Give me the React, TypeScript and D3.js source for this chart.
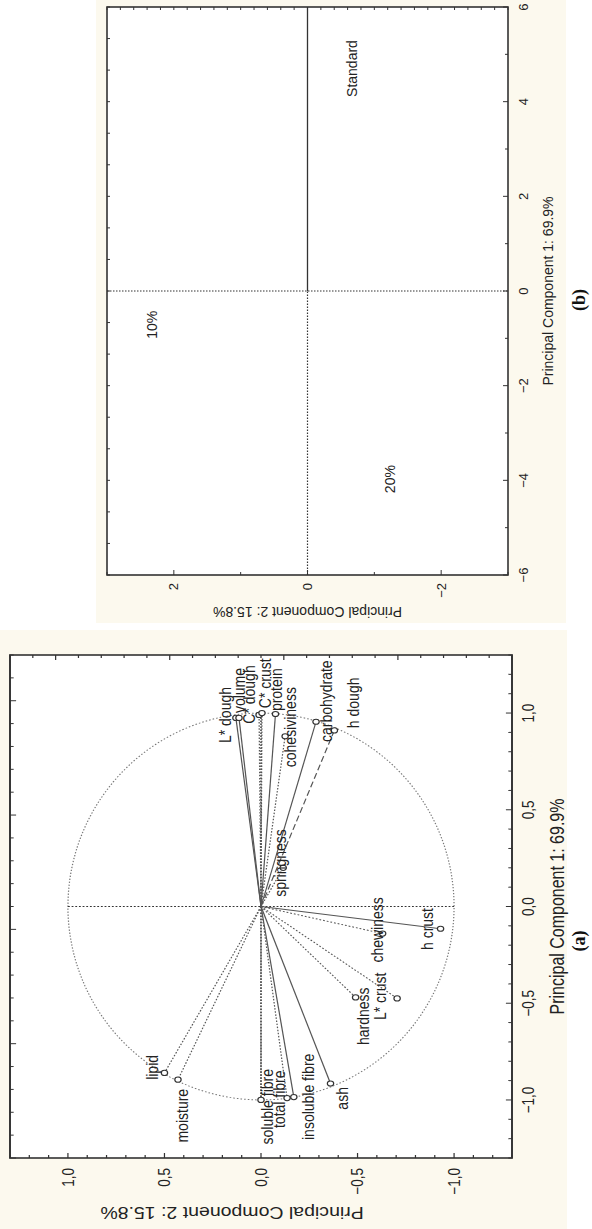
import React from "react";
import * as d3 from "d3";

// ---------- Panel (a): loadings ----------
const varNames = [
  "L* dough", "volume", "C* dough", "C* crust", "protein", "cohesiviness",
  "carbohydrate", "h dough", "springness", "lipid", "moisture", "soluble fibre",
  "total fibre", "insoluble fibre", "ash", "hardness", "L* crust", "chewiness", "h crust",
];
const varPC1 = [0.975, 0.975, 0.99, 1.0, 0.995, 0.88, 0.955, 0.91, 0.2, -0.86, -0.895, -1.0, -0.99, -0.985, -0.915, -0.47, -0.475, -0.14, -0.115];
const varPC2 = [0.13, 0.114, 0.01, -0.005, -0.075, -0.125, -0.285, -0.38, -0.115, 0.5, 0.43, 0.0, -0.135, -0.17, -0.36, -0.49, -0.705, -0.63, -0.93];
const varLine = ["solid", "solid", "dotted", "dotted", "solid", "dotted", "solid", "dashed", "dotted", "dotted", "dotted", "dotted", "dotted", "solid", "solid", "dotted", "dotted", "dotted", "solid"];
const labelPC1 = [0.845, 1.0, 0.945, 1.025, 1.01, 0.72, 0.85, 0.922, 0.05, -0.896, -1.22, -1.23, -1.145, -1.207, -1.05, -0.716, -0.587, -0.29, -0.225];
const labelPC2 = [0.187, 0.114, 0.062, -0.02, -0.078, -0.15, -0.337, -0.477, -0.098, 0.565, 0.41, -0.03, -0.093, -0.244, -0.42, -0.528, -0.617, -0.6, -0.86];
const ticksA = [-1.0, -0.5, 0, 0.5, 1.0];
const tickLabelsA = ["\u22121,0", "\u22120,5", "0,0", "0,5", "1,0"];

// ---------- Panel (b): scores ----------
const sampleNames = ["Standard", "10%", "20%"];
const samplePC1 = [4.1, -1.01, -4.27];
const samplePC2 = [-0.673, 2.33, -1.23];
const ticksB1 = [-6, -4, -2, 0, 2, 4, 6];
const tickLabelsB1 = ["\u22126", "\u22124", "\u22122", "0", "2", "4", "6"];
const ticksB2 = [-2, 0, 2];
const tickLabelsB2 = ["\u22122", "0", "2"];

const xTitle = "Principal Component 1: 69.9%";
const yTitle = "Principal Component 2: 15.8%";

const FONT = "'Liberation Sans', Arial, Helvetica, sans-serif";
const CREAM = "#fcf9ee";
const INK = "#333";

function evenTicks(d0: number, d1: number, n: number) {
  return d3.range(n + 1).map((i) => d0 + (i * (d1 - d0)) / n);
}

function dashFor(s: string) {
  if (s === "dotted") return "1.5,1.6";
  if (s === "dashed") return "6,3";
  return undefined;
}

function PanelA() {
  const W = 503, H = 411.5, left = 10, bottom = 1158, sx = 502 / 411.5;
  const x = d3.scaleLinear().domain([-1.3, 1.3]).range([0, W]);
  const y = d3.scaleLinear().domain([-1.3, 1.3]).range([H, 0]);
  const minor = d3.range(-13, 14).map((i) => i / 10);
  const topT = evenTicks(-1.3, 1.3, 22);
  const isMajor = (v: number) => Math.abs(Math.round(v * 2) - v * 2) < 1e-6;
  const circle = d3.range(0, 361, 2).map((a) => [Math.cos((a * Math.PI) / 180), Math.sin((a * Math.PI) / 180)]);
  const circlePath = d3.line<number[]>().x((d) => x(d[0])).y((d) => y(d[1]))(circle) || "";
  return (
    <g transform={`translate(${left},${bottom}) scale(${sx},1) rotate(-90)`}>
      <defs>
        <clipPath id="clipA">
          <rect x={0} y={0} width={W} height={H} />
        </clipPath>
      </defs>
      <rect x={0} y={0} width={W} height={H} fill="#fff" />
      <g clipPath="url(#clipA)">
        <path d={circlePath} fill="none" stroke="#777" strokeWidth={1} strokeDasharray="1.3,1.7" />
        <line x1={x(0)} x2={x(0)} y1={y(-1)} y2={y(1)} stroke={INK} strokeWidth={1.2} strokeDasharray="1.5,1.5" />
        <line x1={x(-1)} x2={x(1)} y1={y(0)} y2={y(0)} stroke={INK} strokeWidth={1.2} strokeDasharray="1.5,1.5" />
        {varNames.map((n, i) => (
          <line key={"l" + n} x1={x(0)} y1={y(0)} x2={x(varPC1[i])} y2={y(varPC2[i])}
            stroke="#555" strokeWidth={1} strokeDasharray={dashFor(varLine[i])} />
        ))}
        {varNames.map((n, i) => (
          <circle key={"c" + n} cx={x(varPC1[i])} cy={y(varPC2[i])} r={2.6} fill="#fff" stroke={INK} strokeWidth={1} />
        ))}
        {varNames.map((n, i) => (
          <text key={"t" + n} x={x(labelPC1[i])} y={y(labelPC2[i])} dy="0.35em" fontSize={14} fontFamily={FONT} fill="#222">{n}</text>
        ))}
      </g>
      {minor.map((t) => (
        <g key={"tb" + t}>
          <line x1={x(t)} x2={x(t)} y1={H} y2={H - (isMajor(t) ? 5 : 3)} stroke={INK} />
          <line x1={0} x2={isMajor(t) ? 5 : 3} y1={y(t)} y2={y(t)} stroke={INK} />
        </g>
      ))}
      {topT.map((t, i) => (
        <g key={"tt" + i}>
          <line x1={x(t)} x2={x(t)} y1={0} y2={i % 5 === 0 ? 5 : 3} stroke={INK} />
          <line x1={W} x2={W - (i % 5 === 0 ? 5 : 3)} y1={y(t)} y2={y(t)} stroke={INK} />
        </g>
      ))}
      <rect x={0} y={0} width={W} height={H} fill="none" stroke={INK} strokeWidth={1.6} />
      {ticksA.map((t, i) => (
        <text key={"xl" + t} x={x(t)} y={H + 13} dy="0.35em" textAnchor="middle" fontSize={13.5} fontFamily={FONT} fill="#222">{tickLabelsA[i]}</text>
      ))}
      {ticksA.map((t, i) => (
        <text key={"yl" + t} x={-10} y={y(t)} dy="0.35em" textAnchor="end" fontSize={13.5} fontFamily={FONT} fill="#222">{tickLabelsA[i]}</text>
      ))}
      <text x={W / 2} y={H + 37} dy="0.35em" textAnchor="middle" fontSize={16} fontFamily={FONT} fill="#222">{xTitle}</text>
      <text transform={`translate(-55,${182}) rotate(-90)`} dy="0.35em" textAnchor="middle" fontSize={16} fontFamily={FONT} fill="#222">{yTitle}</text>
    </g>
  );
}

function PanelB() {
  const W = 568, H = 401, left = 107, bottom = 575;
  const x = d3.scaleLinear().domain([-6, 6]).range([0, W]);
  const y = d3.scaleLinear().domain([-3, 3]).range([H, 0]);
  const bt = d3.range(-6, 7);
  const lt = d3.range(-3, 4);
  const topT = evenTicks(-6, 6, 18);
  const rightT = evenTicks(-3, 3, 30);
  return (
    <g transform={`translate(${left},${bottom}) rotate(-90)`}>
      <rect x={0} y={0} width={W} height={H} fill="#fff" />
      <line x1={x(0)} x2={x(0)} y1={0} y2={H} stroke={INK} strokeWidth={1.2} strokeDasharray="1.5,1.5" />
      <line x1={x(-6)} x2={x(0)} y1={y(0)} y2={y(0)} stroke={INK} strokeWidth={1.2} strokeDasharray="1.5,1.5" />
      <line x1={x(0)} x2={x(6)} y1={y(0)} y2={y(0)} stroke={INK} strokeWidth={1.3} />
      {sampleNames.map((n, i) => (
        <text key={n} x={x(samplePC1[i])} y={y(samplePC2[i])} dy="0.35em" fontSize={14} fontFamily={FONT} fill="#222">{n}</text>
      ))}
      {bt.map((t) => (
        <line key={"b" + t} x1={x(t)} x2={x(t)} y1={H} y2={H - (t % 2 === 0 ? 5 : 3)} stroke={INK} />
      ))}
      {lt.map((t) => (
        <line key={"l" + t} x1={0} x2={t % 2 === 0 ? 5 : 3} y1={y(t)} y2={y(t)} stroke={INK} />
      ))}
      {topT.map((t, i) => (
        <line key={"t" + i} x1={x(t)} x2={x(t)} y1={0} y2={3} stroke={INK} />
      ))}
      {rightT.map((t, i) => (
        <line key={"r" + i} x1={W} x2={W - 3} y1={y(t)} y2={y(t)} stroke={INK} />
      ))}
      <rect x={0} y={0} width={W} height={H} fill="none" stroke={INK} strokeWidth={1.6} />
      {ticksB1.map((t, i) => (
        <text key={"xl" + t} x={x(t)} y={H + 15} dy="0.35em" textAnchor="middle" fontSize={13} fontFamily={FONT} fill="#222">{tickLabelsB1[i]}</text>
      ))}
      {ticksB2.map((t, i) => (
        <text key={"yl" + t} x={-8} y={y(t)} dy="0.35em" textAnchor="end" fontSize={13} fontFamily={FONT} fill="#222">{tickLabelsB2[i]}</text>
      ))}
      <text x={W / 2} y={H + 40} dy="0.35em" textAnchor="middle" fontSize={14} fontFamily={FONT} fill="#222">{xTitle}</text>
      <text transform={`translate(-37,${H / 2}) rotate(-90)`} dy="0.35em" textAnchor="middle" fontSize={14} fontFamily={FONT} fill="#222">{yTitle}</text>
    </g>
  );
}

export default function App() {
  return (
    <svg width={592} height={1229} style={{ position: "absolute", left: 0, top: 0, background: "#fff" }}>
      <rect x={96} y={0} width={470} height={623} fill={CREAM} />
      <rect x={0} y={630} width={567} height={599} fill={CREAM} />
      <PanelB />
      <PanelA />
      <text transform="translate(579,300) rotate(-90)" dy="0.35em" textAnchor="middle" fontSize={18} fontWeight="bold" fontFamily="'Liberation Serif', 'Times New Roman', serif" fill="#111">(b)</text>
      <text transform="translate(579,941) rotate(-90)" dy="0.35em" textAnchor="middle" fontSize={18} fontWeight="bold" fontFamily="'Liberation Serif', 'Times New Roman', serif" fill="#111">(a)</text>
    </svg>
  );
}
